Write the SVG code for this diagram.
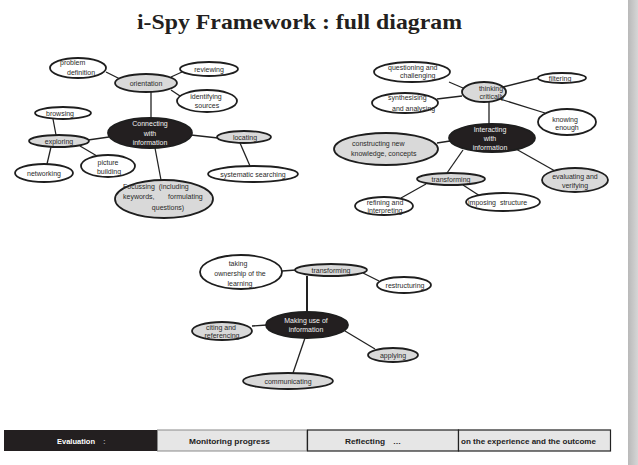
<svg xmlns="http://www.w3.org/2000/svg" width="638" height="465" viewBox="0 0 638 465">
<defs>
<linearGradient id="edge" x1="0" y1="0" x2="1" y2="0">
<stop offset="0" stop-color="#b9b9b9"/>
<stop offset="1" stop-color="#d6d6d6"/>
</linearGradient>
<style>
.w{fill:#fff;stroke:#1e1e1e;stroke-width:1.8}
.g{fill:#d9d9d9;stroke:#1e1e1e;stroke-width:1.8}
.b{fill:#231f20;stroke:#1e1e1e;stroke-width:1.8}
.t{font-family:"Liberation Sans",Arial,sans-serif;font-size:7px;fill:#2a2a2a}
.tw{font-family:"Liberation Sans",Arial,sans-serif;font-size:7px;fill:#f2f2f2}
.c{text-anchor:middle}
.ln{stroke:#222;stroke-width:1.3;fill:none}
.lt{stroke:#222;stroke-width:2;fill:none}
.bar{font-family:"Liberation Sans",Arial,sans-serif;font-size:8px;font-weight:bold;fill:#222}
</style>
</defs>
<rect width="638" height="465" fill="#fff"/>
<rect x="628" y="0" width="10" height="465" fill="url(#edge)"/>
<text x="299.5" y="29" text-anchor="middle" font-family="'Liberation Serif','Times New Roman',serif" font-weight="bold" font-size="22" fill="#231f20" textLength="325" lengthAdjust="spacingAndGlyphs">i-Spy Framework : full diagram</text>

<g id="connectors">
<!-- cluster 1 -->
<line class="ln" x1="106" y1="72" x2="120" y2="79"/>
<line class="ln" x1="171" y1="77" x2="182" y2="72"/>
<line class="ln" x1="171" y1="90" x2="180" y2="96"/>
<line class="ln" x1="151" y1="92" x2="151" y2="118"/>
<line class="ln" x1="109" y1="137" x2="88" y2="140"/>
<line class="ln" x1="53" y1="119" x2="56" y2="135"/>
<line class="ln" x1="51" y1="147" x2="47" y2="164"/>
<line class="ln" x1="80" y1="146" x2="97" y2="156"/>
<line class="ln" x1="191" y1="135" x2="218" y2="138"/>
<line class="ln" x1="240" y1="143" x2="250" y2="166"/>
<line class="ln" x1="155" y1="148" x2="161" y2="180"/>
<!-- cluster 2 -->
<line class="ln" x1="449" y1="82" x2="463" y2="88"/>
<line class="ln" x1="437" y1="99" x2="462" y2="96"/>
<line class="ln" x1="503" y1="87" x2="539" y2="78"/>
<line class="ln" x1="500" y1="99" x2="545" y2="113"/>
<line class="ln" x1="489" y1="102" x2="489" y2="124"/>
<line class="ln" x1="450" y1="141" x2="437" y2="143"/>
<line class="ln" x1="463" y1="150" x2="447" y2="173"/>
<line class="ln" x1="516" y1="149" x2="555" y2="171"/>
<line class="ln" x1="426" y1="184" x2="401" y2="198"/>
<line class="ln" x1="463" y1="185" x2="480" y2="196"/>
<!-- cluster 3 -->
<line class="lt" x1="307" y1="276" x2="307" y2="312"/>
<line class="ln" x1="282" y1="271" x2="296" y2="270"/>
<line class="ln" x1="363" y1="273" x2="379" y2="281"/>
<line class="ln" x1="267" y1="325" x2="252" y2="326"/>
<line class="ln" x1="345" y1="331" x2="375" y2="349"/>
<line class="ln" x1="305" y1="338" x2="293" y2="373"/>
</g>

<!-- cluster 1 -->
<g id="connecting">
<ellipse class="b" cx="150" cy="133" rx="42" ry="15"/>
<text class="tw c" x="150" y="126">Connecting</text>
<text class="tw c" x="150" y="136">with</text>
<text class="tw c" x="150" y="145">information</text>
</g>
<g id="orientation">
<ellipse class="g" cx="146" cy="83" rx="31" ry="9"/>
<text class="t c" x="146" y="86">orientation</text>
</g>
<g id="problem-definition">
<ellipse class="w" cx="78" cy="68" rx="28" ry="10"/>
<text class="t" x="60" y="65">problem</text>
<text class="t" x="67" y="75">definition</text>
</g>
<g id="reviewing">
<ellipse class="w" cx="209" cy="69" rx="29" ry="7"/>
<text class="t c" x="209" y="71.5">reviewing</text>
</g>
<g id="identifying-sources">
<ellipse class="w" cx="207" cy="101" rx="30" ry="11"/>
<text class="t c" x="206" y="99">identifying</text>
<text class="t c" x="207" y="108">sources</text>
</g>
<g id="browsing">
<ellipse class="w" cx="63" cy="113" rx="28" ry="6"/>
<text class="t" x="46" y="115.5">browsing</text>
</g>
<g id="exploring">
<ellipse class="g" cx="59" cy="141" rx="30" ry="6"/>
<text class="t c" x="59" y="143.5">exploring</text>
</g>
<g id="networking">
<ellipse class="w" cx="44" cy="173" rx="29" ry="9"/>
<text class="t c" x="44" y="176">networking</text>
</g>
<g id="picture-building">
<ellipse class="w" cx="108" cy="166" rx="27" ry="11"/>
<text class="t c" x="108" y="165">picture</text>
<text class="t c" x="109" y="174">building</text>
</g>
<g id="locating">
<ellipse class="g" cx="244" cy="137" rx="27" ry="6"/>
<text class="t c" x="245" y="139.5">locating</text>
</g>
<g id="systematic-searching">
<ellipse class="w" cx="253" cy="174" rx="45" ry="8"/>
<text class="t c" x="253" y="176.5">systematic searching</text>
</g>
<g id="focussing">
<ellipse class="g" cx="164" cy="199" rx="49" ry="19"/>
<text class="t" x="123" y="189" xml:space="preserve">Focussing  (including</text>
<text class="t" x="123" y="199" xml:space="preserve">keywords,       formulating</text>
<text class="t c" x="168" y="210">questions)</text>
</g>

<!-- cluster 2 -->
<g id="interacting">
<ellipse class="b" cx="492" cy="138" rx="43" ry="14"/>
<text class="tw c" x="490" y="132">Interacting</text>
<text class="tw c" x="490" y="141">with</text>
<text class="tw c" x="490" y="149.5">information</text>
</g>
<g id="thinking-critically">
<ellipse class="g" cx="484" cy="92" rx="22" ry="10"/>
<text class="t c" x="491" y="90.5">thinking</text>
<text class="t c" x="492" y="98.5">critically</text>
</g>
<g id="questioning">
<ellipse class="w" cx="412" cy="72" rx="38" ry="10"/>
<text class="t" x="388" y="70">questioning and</text>
<text class="t" x="400" y="78">challenging</text>
</g>
<g id="synthesising">
<ellipse class="w" cx="405" cy="103" rx="33" ry="10"/>
<text class="t" x="388" y="100">synthesising</text>
<text class="t" x="392" y="111">and analysing</text>
</g>
<g id="filtering">
<ellipse class="w" cx="562" cy="78" rx="24" ry="5"/>
<text class="t c" x="560" y="80.5">filtering</text>
</g>
<g id="knowing-enough">
<ellipse class="w" cx="567" cy="122" rx="29" ry="13"/>
<text class="t c" x="565" y="122">knowing</text>
<text class="t c" x="567" y="130">enough</text>
</g>
<g id="constructing">
<ellipse class="g" cx="386" cy="149" rx="52" ry="16"/>
<text class="t" x="352" y="146">constructing new</text>
<text class="t" x="351" y="156">knowledge, concepts</text>
</g>
<g id="transforming-2">
<ellipse class="g" cx="451" cy="179" rx="34" ry="6"/>
<text class="t c" x="451" y="181.5">transforming</text>
</g>
<g id="evaluating">
<ellipse class="g" cx="575" cy="180" rx="33" ry="12"/>
<text class="t c" x="575" y="179">evaluating and</text>
<text class="t c" x="575" y="188">verifying</text>
</g>
<g id="refining">
<ellipse class="w" cx="384" cy="206" rx="29" ry="9"/>
<text class="t c" x="385" y="205">refining and</text>
<text class="t c" x="385" y="213">interpreting</text>
</g>
<g id="imposing">
<ellipse class="w" cx="503" cy="202" rx="37" ry="9"/>
<text class="t" x="468" y="204.5" xml:space="preserve">imposing  structure</text>
</g>

<!-- cluster 3 -->
<g id="making-use">
<ellipse class="b" cx="307" cy="325" rx="41" ry="13"/>
<text class="tw c" x="306" y="323">Making use of</text>
<text class="tw c" x="306" y="332">information</text>
</g>
<g id="transforming-3">
<ellipse class="g" cx="331" cy="270" rx="36" ry="6"/>
<text class="t c" x="331" y="272.5">transforming</text>
</g>
<g id="taking-ownership">
<ellipse class="w" cx="241" cy="272" rx="41" ry="17"/>
<text class="t c" x="238" y="266">taking</text>
<text class="t c" x="240" y="276">ownership of the</text>
<text class="t c" x="240" y="286">learning</text>
</g>
<g id="restructuring">
<ellipse class="w" cx="404" cy="285" rx="27" ry="8"/>
<text class="t c" x="405" y="287.5">restructuring</text>
</g>
<g id="citing">
<ellipse class="g" cx="222" cy="331" rx="30" ry="9"/>
<text class="t c" x="221" y="330">citing and</text>
<text class="t c" x="222" y="338">referencing</text>
</g>
<g id="applying">
<ellipse class="g" cx="393" cy="355" rx="25" ry="7"/>
<text class="t c" x="393" y="357.5">applying</text>
</g>
<g id="communicating">
<ellipse class="g" cx="288" cy="381" rx="45" ry="8"/>
<text class="t c" x="288" y="384">communicating</text>
</g>

<!-- bottom bar -->
<g id="evaluation-bar">
<rect x="4" y="430" width="153" height="21" fill="#231f20"/>
<text class="bar" x="57" y="443.5" fill="#fff" style="fill:#fff" textLength="38" lengthAdjust="spacingAndGlyphs">Evaluation</text>
<text class="bar" x="103" y="443.5" style="fill:#999">:</text>
</g>
<g id="monitoring-bar">
<rect x="157.5" y="430" width="149.5" height="21" fill="#e6e6e6" stroke="#8a8a8a" stroke-width="1"/>
<text class="bar" x="189" y="443.5" textLength="81" lengthAdjust="spacingAndGlyphs">Monitoring progress</text>
</g>
<g id="reflecting-bar">
<rect x="307.5" y="430" width="151" height="21" fill="#e6e6e6" stroke="#222" stroke-width="1.2"/>
<text class="bar" x="345" y="443.5" textLength="40" lengthAdjust="spacingAndGlyphs">Reflecting</text>
<text class="bar" x="393" y="443.5">…</text>
</g>
<g id="outcome-bar">
<rect x="458.5" y="430" width="152" height="21" fill="#e6e6e6" stroke="#222" stroke-width="1.2"/>
<text class="bar" x="461" y="443.5" textLength="135" lengthAdjust="spacingAndGlyphs">on the experience and the outcome</text>
</g>
</svg>
